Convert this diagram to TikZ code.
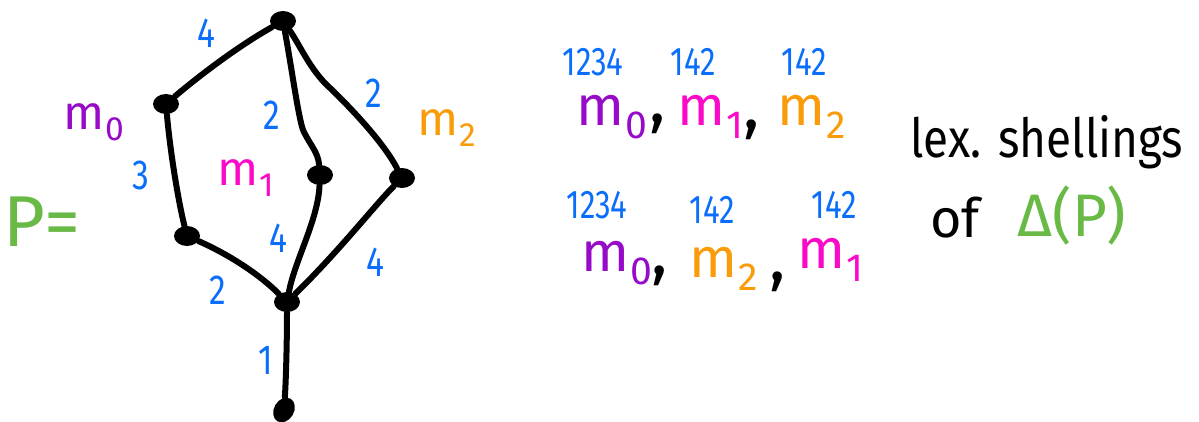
\documentclass[tikz,border=0pt]{standalone}
\usepackage{fontspec}
\usepackage{graphicx}
\usetikzlibrary{shapes.geometric}
\setmainfont{Fira Sans}
\definecolor{cblue}{RGB}{10,110,250}
\definecolor{cpurple}{RGB}{150,10,200}
\definecolor{cpink}{RGB}{250,10,200}
\definecolor{corange}{RGB}{250,155,10}
\definecolor{cgreen}{RGB}{105,185,70}
\newcommand\msub[1]{m\kern0.5pt\raisebox{-0.45ex}{\scalebox{0.7}{#1}}}
\begin{document}
\begin{tikzpicture}[x=0.5pt,y=-0.5pt,
  edge/.style={line width=3pt,line cap=round,line join=round},
  vtx/.style={ellipse,fill=black,minimum width=13pt,minimum height=10pt,inner sep=0pt},
  num/.style={text=cblue,font=\fontsize{21}{21}\selectfont,inner sep=0pt,xscale=0.8},
  topnum/.style={text=cblue,font=\fontsize{20}{20}\selectfont,inner sep=0pt,xscale=0.78},
  mleft/.style={font=\fontsize{24}{24}\selectfont,inner sep=0pt},
  mright/.style={font=\fontsize{28}{28}\selectfont,inner sep=0pt},
  comma/.style={font=\fontsize{34}{34}\selectfont,inner sep=0pt},
  words/.style={font=\fontsize{27}{27}\selectfont,inner sep=0pt}]
\useasboundingbox (0,0) rectangle (1199,422);
% vertices
\node[vtx] (t) at (283,21) {};
\node[vtx] (a) at (166,104) {};
\node[vtx] (b) at (187,236) {};
\node[vtx] (c) at (320,175) {};
\node[vtx] (d) at (402,178) {};
\node[vtx] (e) at (287,302) {};
\node[vtx,rotate=60] (f) at (284,410) {};
% edges
\draw[edge] (t) .. controls (240,45) and (200,75) .. (a);
\draw[edge] (a) .. controls (170,150) and (178,200) .. (b);
\draw[edge] (b) .. controls (230,255) and (260,275) .. (e);
\draw[edge] (t) .. controls (292,70) and (298,115) .. (303,130) .. controls (310,145) and (318,152) .. (c);
\draw[edge] (c) .. controls (318,220) and (295,260) .. (e);
\draw[edge] (t) .. controls (300,45) and (310,70) .. (330,88) .. controls (355,112) and (385,145) .. (d);
\draw[edge] (d) .. controls (375,205) and (340,250) .. (e);
\draw[edge] (e) .. controls (287,340) and (286,380) .. (f);
% edge labels
\node[num] (l1) at (206,33) {4};
\node[num] (l2) at (141,175) {3};
\node[num] (l3) at (218,290) {2};
\node[num] (l4) at (272,115) {2};
\node[num] (l5) at (278,238) {4};
\node[num] (l6) at (374,93) {2};
\node[num] (l7) at (375,262) {4};
\node[num] (l8) at (266,360) {1};
% region labels
\node[mleft,text=cpurple] (m0) at (94,122) {\msub{0}};
\node[mleft,text=cpink] (m1) at (246,178) {\msub{1}};
\node[mleft,text=corange] (m2) at (447,128) {\msub{2}};
\node[text=cgreen,font=\fontsize{36}{36}\selectfont,inner sep=0pt] (P) at (42,222) {P=};
% row 1
\node[topnum] (r1a) at (593,62) {1234};
\node[topnum] (r1b) at (693,62) {142};
\node[topnum] (r1c) at (804,62) {142};
\node[mright,text=cpurple] (r1m0) at (612,117) {\msub{0}};
\node[comma] (r1k1) at (658,124) {,};
\node[mright,text=cpink] (r1m1) at (710,117) {\msub{1}};
\node[comma] (r1k2) at (752,130) {,};
\node[mright,text=corange] (r1m2) at (812,117) {\msub{2}};
% row 2
\node[topnum] (r2a) at (597,205) {1234};
\node[topnum] (r2b) at (712,210) {142};
\node[topnum] (r2c) at (834,205) {142};
\node[mright,text=cpurple] (r2m0) at (617,263) {\msub{0}};
\node[comma] (r2k1) at (660,276) {,};
\node[mright,text=corange] (r2m2) at (724,269) {\msub{2}};
\node[comma] (r2k2) at (778,282) {,};
\node[mright,text=cpink] (r2m1) at (830,260) {\msub{1}};
% words
\node[words,xscale=0.85] (w1) at (1047,142) {lex. shellings};
\node[words] (w2) at (955,218) {of};
\node[text=cgreen,font=\fontsize{30}{30}\selectfont,inner sep=0pt] (w3) at (1072,216) {Δ(P)};
\end{tikzpicture}
\end{document}
